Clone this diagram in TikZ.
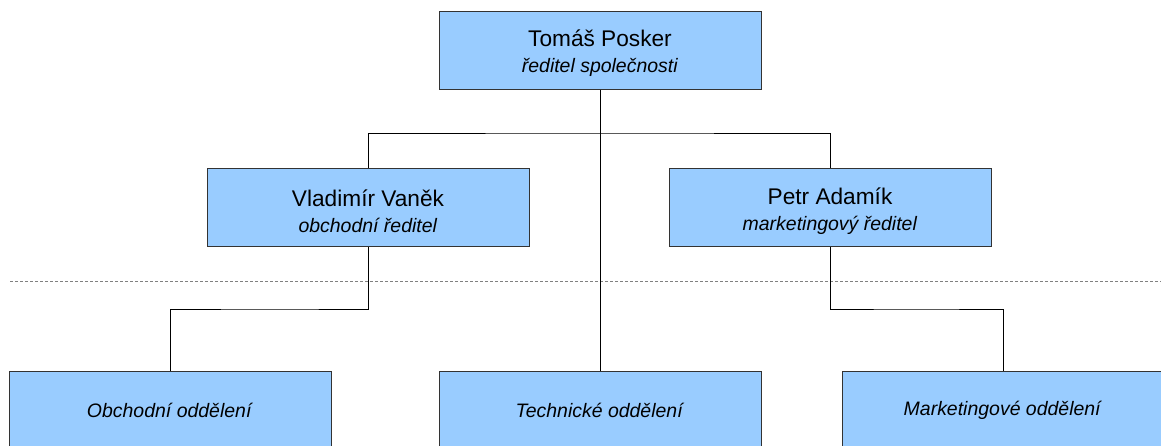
\documentclass[tikz,border=0pt]{standalone}
\usepackage{fontspec}
\setmainfont{Liberation Sans}

\definecolor{boxblue}{HTML}{99CCFF}
\definecolor{boxline}{HTML}{333333}

\tikzset{
  unit/.style={draw=boxline,fill=boxblue,line width=0.75pt,
    minimum width=241.5pt,minimum height=58.5pt,inner sep=0pt,
    align=center,font=\fontsize{14.6}{19.5}\selectfont},
  link/.style={line width=0.75pt,black}
}
\newcommand{\jmeno}[1]{{\fontsize{17}{19.5}\selectfont\rule{0pt}{18pt}#1}}

\begin{document}
\begin{tikzpicture}[x=0.75pt,y=-0.75pt]
\useasboundingbox (0,0) rectangle (1161,446);
\clip (0,0) rectangle (1161,446);

\draw[gray,line width=0.75pt,dash pattern=on 2.25pt off 1.5pt] (10,281) -- (1161,281);

\node[unit] (ceo) at (600,50) {\jmeno{Tomáš Posker}\\\textit{ředitel společnosti}};
\node[unit] (vlad) at (368,207.5) {\jmeno{Vladimír Vaněk}\\\textit{obchodní ředitel}};
\node[unit] (petr) at (830,207.5) {\jmeno{Petr Adamík}\\\textit{marketingový ředitel}};

\node[unit] (obch) at (170,410) {\textit{Obchodní oddělení}};
\node[unit] (tech) at (600,410) {\textit{Technické oddělení}};
\node[unit] (mkt) at (1003,410) {\textit{Marketingové oddělení}};

\coordinate (split) at (600,133);
\coordinate (lstep) at (270,309);
\coordinate (rstep) at (916,309);

\draw[link] (ceo.south) -- (tech.north);
\draw[link] (vlad.north) |- (split) -| (petr.north);
\draw[link] (vlad.south) |- (lstep) -| (obch.north);
\draw[link] (petr.south) |- (rstep) -| (mkt.north);
\end{tikzpicture}
\end{document}
